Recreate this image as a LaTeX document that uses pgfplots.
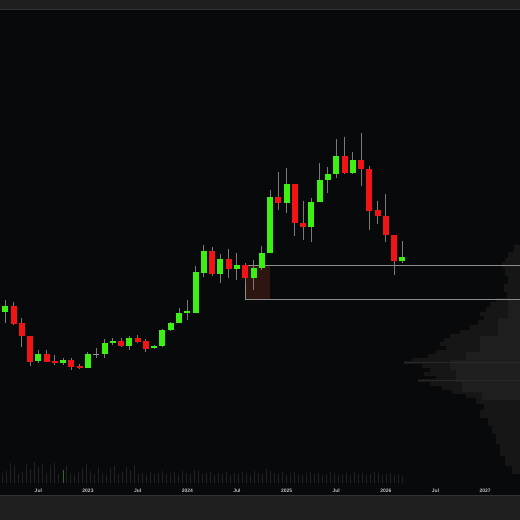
\documentclass[border=0pt]{standalone}
\usepackage{fontspec}
\setmainfont{Liberation Sans}
\usepackage{pgfplots}
\pgfplotsset{compat=1.18}
\usepackage{pgfplotstable}
\definecolor{bgtop}{HTML}{1F1F1F}
\definecolor{bgmain}{HTML}{08090B}
\definecolor{sepline}{HTML}{333333}
\definecolor{upc}{RGB}{60,240,20}
\definecolor{dnc}{RGB}{240,20,20}
\definecolor{wick}{HTML}{7A7A7A}
\definecolor{boxline}{HTML}{8C8C8C}
\definecolor{boxfill}{RGB}{45,22,16}
\definecolor{prof}{HTML}{161617}
\definecolor{profl}{HTML}{1E1E1F}
\definecolor{profline}{HTML}{29292A}
\definecolor{volc}{HTML}{222223}
\definecolor{labelgray}{HTML}{C4C4C4}

\pgfplotstableread{
m top bot
-11 303 325
-10 300 323
-9 302 325
-8 318 347
-7 336 366
-6 350 363
-5 350 362
-4 355 365
-3 358 365
-2 358 370
-1 364 369
0 352 368
1 348 358
2 339 358
3 338 345
4 338 347
5 336 350
6 335 343
7 339 352
8 345 349
9 329 347
10 322 331
11 308 323
12 300 320
13 266 313
14 245 277
15 247 276
16 254 283
17 249 278
18 253 280
19 263 282
20 260 290
21 246 270
22 190 253
23 172 210
24 168 213
25 184 236
26 201 240
27 198 242
28 163 202
29 167 193
30 139 178
31 137 174
32 152 174
33 133 186
34 166 230
35 201 224
36 194 242
37 235 275
38 241 263
}\wicks

\pgfplotstableread{
m top bot
-11 307 322
-10 306 312
-6 354 361
-3 360 363
0 354 368
2 343 354
3 341 343
5 338 346
8 346 348
9 330 346
10 323 330
11 313 323
12 311 313
13 272 313
14 251 273
16 259 274
18 265 269
20 268 278
21 253 268
22 197 253
24 184 203
27 202 227
28 180 202
29 174 180
30 156 174
32 160 173
38 257 261
}\upbodies

\pgfplotstableread{
m top bot
-9 306 324
-8 323 336
-7 336 362
-5 354 362
-4 361 363
-2 360 367
-1 366 368
4 341 346
6 338 342
7 341 349
15 251 274
17 259 269
19 265 278
23 197 203
25 184 223
26 223 227
31 156 173
33 160 169
34 169 211
35 210 216
36 216 235
37 235 261
}\dnbodies

\pgfplotstableread{
m top bot
1 353.5 354.5
}\doji

\begin{document}
\begin{tikzpicture}
\useasboundingbox (0bp,0bp) rectangle (520bp,520bp);
\fill[bgtop] (0bp,0bp) rectangle (520bp,520bp);
\fill[bgmain] (0bp,25bp) rectangle (520bp,509.5bp);
\draw[sepline, line width=1bp] (0bp,510bp) -- (520bp,510bp);
\draw[sepline, line width=1bp] (0bp,24.5bp) -- (520bp,24.5bp);

% volume profile (pixel space)
\begin{axis}[at={(0bp,25bp)}, anchor=south west, width=520bp, height=484bp,
  scale only axis, xmin=0, xmax=520, ymin=11, ymax=495, y dir=reverse, hide axis]
\addplot[fill=prof, draw=none] coordinates {
(520,245) (514,245) (514,252) (508,252) (508,258) (505,258)
(505,262) (502,262) (502,268) (505,268) (505,276) (508,276) (508,284) (504,284) (504,292) (507,292)
(507,298) (496,298) (496,302) (490,302) (490,307) (486,307) (486,312) (480,312) (480,316) (484,316)
(484,320) (478,320) (478,325) (470,325) (470,330) (460,330) (460,334) (450,334)
(450,338) (444,338) (444,342) (440,342) (440,346) (446,346) (446,350) (436,350)
(436,354) (428,354) (428,358) (412,358) (412,361) (404,361) (404,364) (422,364) (422,368) (430,368)
(430,372) (424,372) (424,376) (436,376) (436,379) (418,379) (418,382) (430,382)
(430,386) (442,386) (442,390) (452,390) (452,394) (466,394) (466,398) (476,398)
(476,404) (484,404) (484,410) (480,410) (480,418) (488,418) (488,426) (492,426)
(492,434) (496,434) (496,444) (500,444) (500,456) (505,456) (505,466) (512,466)
(512,474) (520,474)};
\addplot[fill=profl, draw=none] coordinates {
(520,300) (508,300) (508,318) (498,318) (498,336) (480,336) (480,352) (466,352) (466,360) (450,360)
(450,370) (456,370) (456,382) (462,382) (462,392) (482,392) (482,400) (520,400)};
\addplot[profline, line width=0.8bp, mark=none] coordinates {(404,362.5) (520,362.5)};
\addplot[profline, line width=0.8bp, mark=none] coordinates {(418,380.5) (520,380.5)};
\end{axis}

% volume bars
\begin{axis}[at={(0bp,37bp)}, anchor=south west, width=520bp, height=28bp,
  scale only axis, xmin=0, xmax=520, ymin=0, ymax=28, hide axis]
\addplot[ycomb, volc, line width=1bp, mark=none] coordinates {
(2,10) (6,12) (10,20) (14,18) (18,9) (22,11) (26,19) (30,14) (34,21) (38,16)
(42,19) (46,10) (50,18) (54,20) (58,9) (66,17) (70,10) (74,8) (78,11)
(82,15) (86,19) (90,12) (94,9) (98,16) (102,10) (106,8) (110,15) (114,17) (118,9)
(122,11) (126,16) (130,13) (134,18) (138,9) (142,10) (146,8) (150,11) (154,9) (158,10)
(162,12) (166,9) (170,10) (174,11) (178,8) (182,12) (186,10) (190,9) (194,13) (198,12)
(202,9) (206,10) (210,11) (214,8) (218,10) (222,9) (226,11) (230,8) (234,10) (238,9)
(242,11) (246,10) (250,8) (254,12) (258,10) (262,9) (266,14) (270,12) (274,10) (278,9)
(282,11) (286,8) (290,10) (294,11) (298,9) (302,8) (306,10) (310,11) (314,9) (318,10)
(322,8) (326,9) (330,11) (334,10) (338,8) (342,9) (346,10) (350,8) (354,11) (358,9)
(362,10) (366,8) (370,9) (374,11) (378,10) (382,8) (386,9) (390,10) (394,8) (398,9) (402,7)};
\addplot[ycomb, upc!50!black, line width=1bp, mark=none] coordinates {(63,13)};
\end{axis}

% candles
\begin{axis}[at={(0bp,25bp)}, anchor=south west, width=520bp, height=484bp,
  scale only axis, xmin=-10.634, xmax=52.205, ymin=11, ymax=495, y dir=reverse,
  axis line style={draw=none}, tick style={draw=none}, major tick length=0pt,
  ytick=\empty, xtick={-6,0,...,48},
  xticklabels={Jul,2023,Jul,2024,Jul,2025,Jul,2026,Jul,2027},
  xticklabel style={anchor=base, yshift=2.5bp, inner sep=0pt,
    font=\fontsize{5}{6}\selectfont\bfseries, text=labelgray}]
% order block box
\addplot[fill=boxfill, draw=none] coordinates {(19,265) (22,265) (22,299) (19,299)};
\addplot[boxline, line width=1bp, mark=none] coordinates {(52.3,265) (19,265) (19,299) (52.3,299)};
% wicks
\addplot[draw=none, mark=none, error bars/.cd, y dir=both, y explicit, error mark=none,
  error bar style={draw=wick, line width=1bp}]
  table[x=m, y expr=(\thisrow{top}+\thisrow{bot})/2, y error expr=(\thisrow{bot}-\thisrow{top})/2] {\wicks};
% bodies
\addplot[draw=none, mark=none, error bars/.cd, y dir=both, y explicit, error mark=none,
  error bar style={draw=upc, line width=6bp}]
  table[x=m, y expr=(\thisrow{top}+\thisrow{bot})/2, y error expr=(\thisrow{bot}-\thisrow{top})/2] {\upbodies};
\addplot[draw=none, mark=none, error bars/.cd, y dir=both, y explicit, error mark=none,
  error bar style={draw=dnc, line width=6bp}]
  table[x=m, y expr=(\thisrow{top}+\thisrow{bot})/2, y error expr=(\thisrow{bot}-\thisrow{top})/2] {\dnbodies};
\addplot[draw=none, mark=none, error bars/.cd, y dir=both, y explicit, error mark=none,
  error bar style={draw=wick!80!white, line width=6bp}]
  table[x=m, y expr=(\thisrow{top}+\thisrow{bot})/2, y error expr=(\thisrow{bot}-\thisrow{top})/2] {\doji};
\end{axis}
\end{tikzpicture}
\end{document}
